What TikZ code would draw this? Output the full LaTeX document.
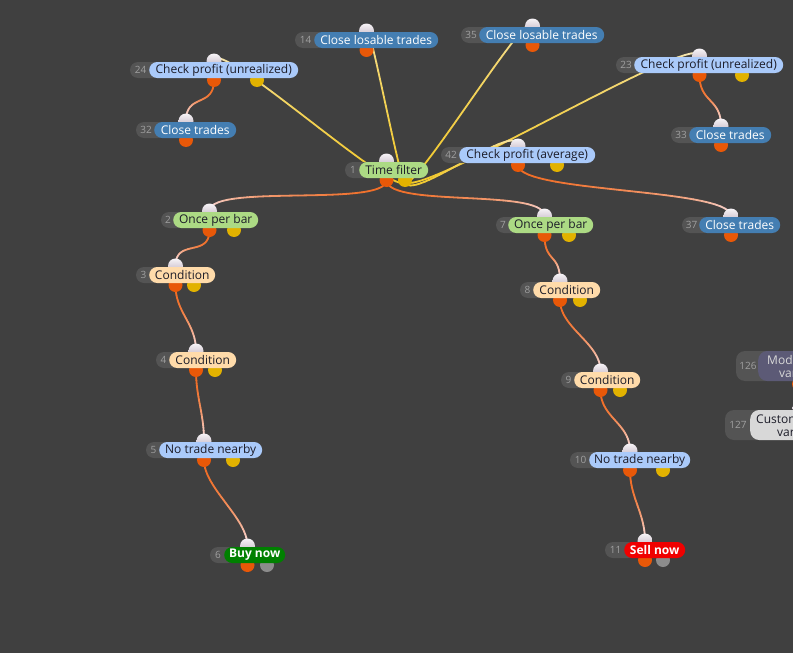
\documentclass[tikz,border=0pt]{standalone}
\usepackage{fontspec}
\setmainfont{Open Sans}
\usetikzlibrary{calc}
\definecolor{canvas}{RGB}{64,64,64}
\definecolor{numgrey}{RGB}{84,84,84}
\definecolor{numtext}{RGB}{160,160,160}
\definecolor{skyblue}{RGB}{170,202,250}
\definecolor{steel}{RGB}{68,126,178}
\definecolor{lime}{RGB}{172,218,132}
\definecolor{peach}{RGB}{255,219,170}
\definecolor{buygreen}{RGB}{0,128,0}
\definecolor{sellred}{RGB}{240,0,0}
\definecolor{dusk}{RGB}{92,90,118}
\definecolor{silver}{RGB}{216,216,216}
\definecolor{inktext}{RGB}{28,28,40}
\definecolor{portin}{RGB}{212,196,212}
\definecolor{portorange}{RGB}{232,88,8}
\definecolor{portyellow}{RGB}{226,178,0}
\definecolor{portgrey}{RGB}{140,140,140}
\definecolor{wireorange}{RGB}{240,108,36}
\definecolor{wireyellow}{RGB}{242,200,40}
\definecolor{wirepink}{RGB}{246,222,224}
\definecolor{wirecream}{RGB}{246,236,206}

\pgfdeclarelayer{wires}
\pgfdeclarelayer{ports}
\pgfsetlayers{wires,ports,main}

\tikzset{
  pill/.style={rectangle, rounded corners=8pt, minimum height=16pt, inner sep=0pt,
    font=\fontsize{12}{14}\selectfont, text=inktext},
  bluebox/.style={pill, fill=skyblue},
  steelbox/.style={pill, fill=steel, text=white},
  greenbox/.style={pill, fill=lime},
  peachbox/.style={pill, fill=peach},
  buybox/.style={pill, fill=buygreen, text=white, font=\fontsize{12}{14}\selectfont\bfseries},
  sellbox/.style={pill, fill=sellred, text=white, font=\fontsize{12}{14}\selectfont\bfseries},
  numtag/.style={text=numtext, font=\fontsize{10}{12}\selectfont, inner sep=0pt},
  inport/.style={circle, inner sep=0pt, minimum size=15pt, top color=white!80!portin, bottom color=portin!90!black},
  outport/.style={circle, inner sep=0pt, minimum size=14pt, fill=portorange},
  yport/.style={outport, fill=portyellow},
  gport/.style={outport, fill=portgrey},
  wire/.style={line width=1.8pt, line cap=round},
}

% block: name, left of number, left of label, right of label, y, number, label, style
\newcommand{\block}[8]{%
  \pgfmathsetmacro{\px}{(#2+#4)/2}%
  \pgfmathsetmacro{\tx}{(#2+#3)/2+1}%
  \pgfmathsetmacro{\lw}{#4-#3}%
  \begin{pgfonlayer}{ports}
    \node[inport] (#1i) at (\px,#5-9) {};
    \node[outport] (#1o) at (\px,#5+10) {};
  \end{pgfonlayer}
  \fill[numgrey, rounded corners=8pt] (#2,#5-8) rectangle (#3+12,#5+8);
  \node[numtag] (#1n) at (\tx,#5) {#6};
  \node[#8, minimum width=\lw pt, anchor=west] (#1) at (#3,#5) {#7};
}

% wire: from port, to port, start colour, end colour
\newcommand{\wire}[4]{%
  \path (#1.center) .. controls ($(#1.center)+(0,28)$) and ($(#2.center)+(0,-28)$) .. (#2.center)
    \foreach \t [evaluate=\t as \p using \t/30] in {0,...,30} {coordinate[pos=\p] (w\t)};
  \foreach \t in {0,...,29} {
    \pgfmathtruncatemacro{\s}{\t+1}
    \pgfmathtruncatemacro{\m}{100-100*(\t/29)^2}
    \draw[wire, color=#3!\m!#4] (w\t) -- (w\s);
  }
}

\begin{document}
\begin{tikzpicture}[x=1pt,y=-1pt]
  \useasboundingbox (0,0) rectangle (793,653);
  \clip (0,0) rectangle (793,653);
  \begin{pgfonlayer}{wires}
    \fill[canvas] (0,0) rectangle (793,653);
  \end{pgfonlayer}

  % Blocks
  \block{n1}{345}{359}{428}{170}{1}{Time filter}{greenbox}
  \block{n2}{161}{173}{258}{220}{2}{Once per bar}{greenbox}
  \block{n3}{136}{149}{215}{275}{3}{Condition}{peachbox}
  \block{n4}{156}{169}{236}{360}{4}{Condition}{peachbox}
  \block{n5}{146}{159}{262}{450}{5}{No trade nearby}{bluebox}
  \block{n6}{210}{224}{285}{555}{6}{Buy now}{buybox}
  \block{n7}{496}{508}{593}{225}{7}{Once per bar}{greenbox}
  \block{n8}{520}{533}{600}{290}{8}{Condition}{peachbox}
  \block{n9}{561}{574}{640}{380}{9}{Condition}{peachbox}
  \block{n10}{570}{589}{690}{460}{10}{No trade nearby}{bluebox}
  \block{n11}{605}{624}{685}{550}{11}{Sell now}{sellbox}
  \block{n14}{295}{314}{438}{40}{14}{Close losable trades}{steelbox}
  \block{n23}{616}{634}{783}{65}{23}{Check profit (unrealized)}{bluebox}
  \block{n24}{130}{149}{298}{70}{24}{Check profit (unrealized)}{bluebox}
  \block{n32}{136}{154}{236}{130}{32}{Close trades}{steelbox}
  \block{n33}{671}{689}{771}{135}{33}{Close trades}{steelbox}
  \block{n35}{461}{479}{604}{35}{35}{Close losable trades}{steelbox}
  \block{n37}{682}{699}{780}{225}{37}{Close trades}{steelbox}
  \block{n42}{441}{459}{595}{155}{42}{Check profit (average)}{bluebox}

  % Second outputs
  \begin{pgfonlayer}{ports}
    \node[yport] (n1y) at (405,180) {};
    \node[yport] (n2y) at (234,230) {};
    \node[yport] (n3y) at (194,285) {};
    \node[yport] (n4y) at (215,370) {};
    \node[yport] (n5y) at (233,460) {};
    \node[gport] (n6g) at (267,565) {};
    \node[yport] (n7y) at (569,235) {};
    \node[yport] (n8y) at (580,300) {};
    \node[yport] (n9y) at (620,390) {};
    \node[yport] (n10y) at (663,470) {};
    \node[gport] (n11g) at (663,560) {};
    \node[yport] (n23y) at (742,75) {};
    \node[yport] (n24y) at (257,80) {};
    \node[yport] (n42y) at (557,165) {};
    \node[outport] (n126o) at (799,384) {};
    \node[inport] (n127i) at (800,408) {};
  \end{pgfonlayer}

  % Blocks cut by the right edge
  \fill[numgrey, rounded corners=9pt] (736,351) rectangle (775,381);
  \node[numtag] (n126n) at (748,366) {126};
  \node[pill, fill=dusk, text=silver, rounded corners=9pt, minimum height=30pt, inner xsep=9pt,
    anchor=west, align=left, font=\fontsize{12}{13}\selectfont] (n126) at (758,366) {Modify\\\hspace*{12pt}variables};
  \fill[numgrey, rounded corners=9pt] (725,410) rectangle (765,440);
  \node[numtag] (n127n) at (738,425) {127};
  \node[pill, fill=silver, rounded corners=9pt, minimum height=30pt, inner xsep=6pt,
    anchor=west, align=left, font=\fontsize{12}{13}\selectfont] (n127) at (750,425) {Custom code\\\hspace*{21pt}variables};

  % Connections
  \begin{pgfonlayer}{wires}
    \wire{n1o}{n2i}{wireorange}{wirepink}
    \wire{n1o}{n7i}{wireorange}{wirepink}
    \wire{n2o}{n3i}{wireorange}{wirepink}
    \wire{n3o}{n4i}{wireorange}{wirepink}
    \wire{n4o}{n5i}{wireorange}{wirepink}
    \wire{n5o}{n6i}{wireorange}{wirepink}
    \wire{n7o}{n8i}{wireorange}{wirepink}
    \wire{n8o}{n9i}{wireorange}{wirepink}
    \wire{n9o}{n10i}{wireorange}{wirepink}
    \wire{n10o}{n11i}{wireorange}{wirepink}
    \wire{n42o}{n37i}{wireorange}{wirepink}
    \wire{n24o}{n32i}{wireorange}{wirepink}
    \wire{n23o}{n33i}{wireorange}{wirepink}
    \wire{n1y}{n24i}{wireyellow}{wirecream}
    \wire{n1y}{n14i}{wireyellow}{wirecream}
    \wire{n1y}{n35i}{wireyellow}{wirecream}
    \wire{n1y}{n23i}{wireyellow}{wirecream}
    \wire{n1y}{n42i}{wireyellow}{wirecream}
  \end{pgfonlayer}
\end{tikzpicture}
\end{document}
